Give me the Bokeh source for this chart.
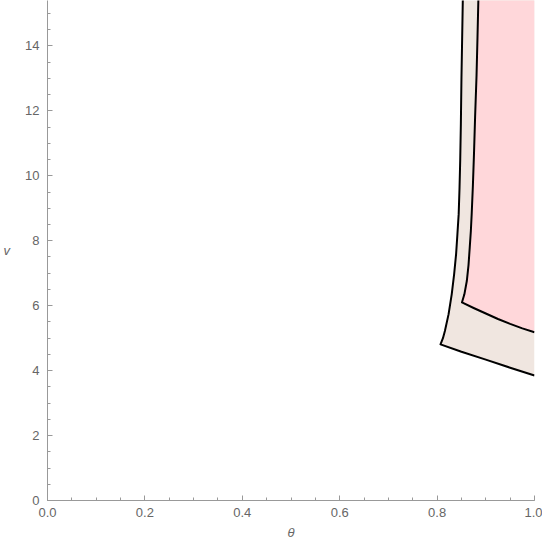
from bokeh.plotting import figure
from bokeh.models import Range1d, SingleIntervalTicker, NumeralTickFormatter
from bokeh.embed import file_html
from bokeh.resources import INLINE

V_TOP = 15.6

# Outer region (beige) boundary: from right edge along lower edge, corner, then up
outer_theta = [1.0, 0.95, 0.90, 0.85, 0.807, 0.812, 0.816, 0.8236, 0.830, 0.835, 0.839,
               0.8417, 0.8443, 0.8460, 0.8475, 0.8488, 0.850, 0.8515, 0.853]
outer_v = [3.85, 4.09, 4.34, 4.58, 4.81, 5.00, 5.22, 5.74, 6.35, 6.97, 7.59,
           8.20, 8.82, 9.60, 10.5, 11.6, 13.0, 14.3, 15.6]

# Inner region (pink) boundary
inner_theta = [1.0, 0.975, 0.95, 0.925, 0.90, 0.875, 0.851, 0.856, 0.861, 0.8645, 0.867,
               0.8693, 0.871, 0.8735, 0.8758, 0.878, 0.881, 0.883, 0.885]
inner_v = [5.18, 5.30, 5.44, 5.59, 5.76, 5.93, 6.10, 6.35, 6.76, 7.25, 7.79,
           8.30, 8.82, 9.70, 10.7, 11.8, 13.1, 14.3, 15.6]

p = figure(width=542, height=542, output_backend="svg", toolbar_location=None,
           x_range=Range1d(0, 1), y_range=Range1d(0, 15.4),
           min_border_left=40, min_border_right=8, min_border_top=0, min_border_bottom=0)
p.outline_line_color = None
p.grid.grid_line_color = None

for th, vv, col in ((outer_theta, outer_v, "#F0E6E0"), (inner_theta, inner_v, "#FFD7DA")):
    p.patch(th + [1.0], vv + [V_TOP], fill_color=col, line_color=None)
for th, vv in ((outer_theta, outer_v), (inner_theta, inner_v)):
    p.line(th, vv, line_color="black", line_width=2, line_join="round")

p.xaxis.ticker = SingleIntervalTicker(interval=0.2, num_minor_ticks=4)
p.xaxis.formatter = NumeralTickFormatter(format="0.0")
p.yaxis.ticker = SingleIntervalTicker(interval=2, num_minor_ticks=4)
for ax in (p.xaxis, p.yaxis):
    ax.axis_line_color = "#999999"
    ax.major_tick_line_color = "#999999"
    ax.minor_tick_line_color = "#999999"
    ax.major_tick_in = 5
    ax.major_tick_out = 0
    ax.minor_tick_in = 3
    ax.minor_tick_out = 0
    ax.major_label_text_color = "#666666"
    ax.major_label_text_font = "Liberation Sans"
    ax.major_label_text_font_size = "13px"
    ax.axis_label_text_color = "#666666"
    ax.axis_label_text_font = "Liberation Sans"
    ax.axis_label_text_font_style = "italic"
    ax.axis_label_text_font_size = "13px"
p.xaxis.axis_label = "θ"
p.yaxis.axis_label = "v"
p.xaxis.major_label_standoff = 7
p.xaxis.axis_label_standoff = 5
p.yaxis.major_label_standoff = 8
p.yaxis.axis_label_standoff = 12
p.yaxis.major_label_orientation = "horizontal"
p.yaxis.axis_label_orientation = "horizontal"

open("out.html", "w").write(file_html(p, INLINE))
